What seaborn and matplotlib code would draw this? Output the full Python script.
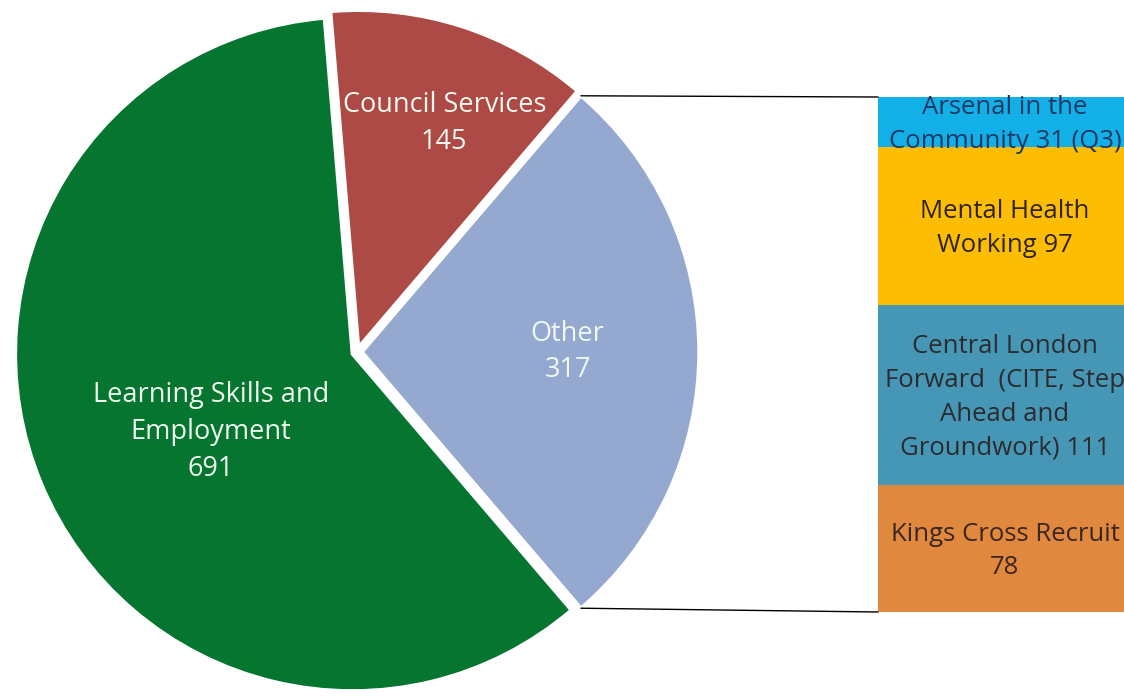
import matplotlib
matplotlib.use("Agg")
import matplotlib.pyplot as plt
from matplotlib.patches import ConnectionPatch
import numpy as np
import seaborn as sns

# Pie: main referral sources
pie_labels = ["Other", "Council Services", "Learning Skills and\nEmployment"]
pie_values = [317, 145, 691]
pie_colors = ["#94a8d0", "#ad4a45", "#067530"]

# Breakdown of "Other" (stacked bar, top to bottom)
bar_labels = ["Arsenal in the\nCommunity", "Mental Health\nWorking", "Central London\nForward  (CITE, Step\nAhead and\nGroundwork)", "Kings Cross Recruit\n"]
bar_suffix = [" 31 (Q3)", " 97", " 111", "78"]
bar_values = [31, 97, 111, 78]
bar_colors = ["#13b0e8", "#fdbd04", "#4697b5", "#e0883e"]

sns.set_theme(style="white")
plt.rcParams["font.family"] = ["Open Sans", "DejaVu Sans"]

W, H = 1124, 696
fig = plt.figure(figsize=(W / 100, H / 100), dpi=100)

# ---- pie, drawn in pixel-like units ----
ax = fig.add_axes([0, 0, 1, 1])
cx, cy, R = 357, H - 352, 337
start = -360 * pie_values[0] / sum(pie_values) / 2
wedges, _ = ax.pie(pie_values, colors=pie_colors, startangle=start,
                   counterclock=True, radius=R, center=(cx, cy),
                   explode=[5, 5, 5],
                   wedgeprops=dict(edgecolor="white", linewidth=2.5))
ax.set_xlim(0, W)
ax.set_ylim(0, H)
ax.set_aspect("equal")
ax.axis("off")

# label placement (angle in degrees, distance as fraction of radius)
label_pos = [(0, 0.61), (69.0, 0.71), (208.8, 0.48)]
for w, lab, val, (ang, frac) in zip(wedges, pie_labels, pie_values, label_pos):
    wx, wy = w.center
    x = wx + frac * w.r * np.cos(np.radians(ang))
    y = wy + frac * w.r * np.sin(np.radians(ang))
    ax.text(x, y, f"{lab}\n{val}", ha="center", va="center", color="#eef8ee",
            fontsize=19.5, linespacing=1.42)

# ---- stacked bar for the "Other" breakdown ----
bx0, bx1, by0, by1 = 878, 1132, H - 612, H - 97
axb = fig.add_axes([bx0 / W, by0 / H, (bx1 - bx0) / W, (by1 - by0) / H])
cum = np.cumsum(bar_values[::-1])[::-1]  # top of each segment
for top, col in zip(cum, bar_colors):
    sns.barplot(x=[0], y=[top], color=col, saturation=1, width=1.0,
                edgecolor="none", linewidth=0, ax=axb)
axb.set_xlim(-0.5, 0.5)
axb.set_ylim(0, sum(bar_values))
axb.axis("off")

text_cols = ["#1f3864", "#2e2424", "#2b2b30", "#3a2622"]
for top, v, lab, suf, tc in zip(cum, bar_values, bar_labels, bar_suffix, text_cols):
    axb.text(0, top - v / 2 - 1.5, lab + suf, ha="center", va="center", color=tc,
             fontsize=18.5, linespacing=1.46, clip_on=False)

# ---- connector lines from the "Other" wedge to the bar ----
ow = wedges[0]
ox, oy = ow.center
for theta, yb in [(ow.theta2, sum(bar_values)), (ow.theta1, 0)]:
    px = ox + ow.r * np.cos(np.radians(theta))
    py = oy + ow.r * np.sin(np.radians(theta))
    con = ConnectionPatch(xyA=(px, py), coordsA=ax.transData,
                          xyB=(-0.5, yb), coordsB=axb.transData,
                          color="black", linewidth=1.0)
    fig.add_artist(con)

fig.savefig("out.png", dpi=100)
